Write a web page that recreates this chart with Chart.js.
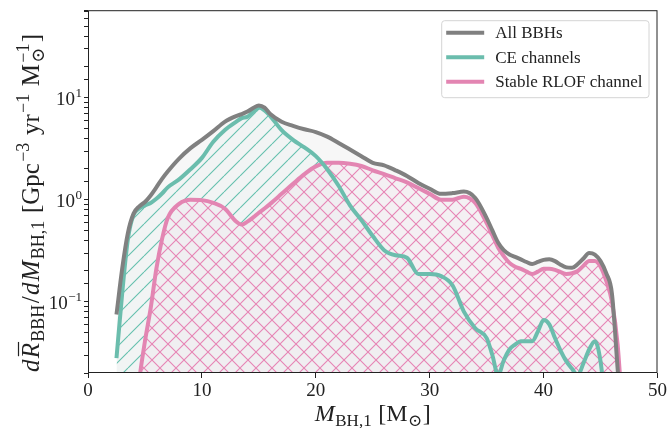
<!DOCTYPE html>
<html>
<head>
<meta charset="utf-8">
<script src="https://cdn.jsdelivr.net/npm/chart.js@4.4.1/dist/chart.umd.min.js"></script>
<style>
  html, body { margin: 0; padding: 0; background: #fff; }
  #wrap { width: 669px; height: 428px; }
</style>
</head>
<body>
<div id="wrap"><canvas id="massChart" width="669" height="428"></canvas></div>
<script>
// primary BH mass grid (Msun) and rate densities
const masses = [2.5, 3, 3.5, 4, 4.5, 5, 5.5, 6, 6.5, 7, 8, 9, 10, 11, 12, 13, 13.5, 14, 14.5, 15, 15.5, 16,
  17, 18, 19, 20, 21, 22, 23, 24, 25, 26, 27, 28, 29, 30, 31, 32, 33, 34, 35, 35.5, 36, 36.5, 37, 37.5,
  38, 38.5, 39, 39.5, 40, 40.5, 41, 41.5, 42, 42.5, 43, 43.5, 44, 44.5, 45, 45.5, 46, 46.5, 47];

const allBBH = [0.075, 0.21, 0.47, 0.73, 0.86, 0.95, 1.1, 1.32, 1.6, 1.89, 2.53, 3.2, 3.86, 4.7, 5.8, 6.6, 6.9, 7.3, 7.9, 8.4, 8.0, 6.9,
  5.8, 5.3, 4.9, 4.6, 4.15, 3.6, 3.1, 2.67, 2.3, 2.17, 1.94, 1.71, 1.46, 1.28, 1.14, 1.16, 1.2, 1.04, 0.66, 0.5, 0.38, 0.32, 0.29, 0.275,
  0.26, 0.245, 0.234, 0.245, 0.257, 0.26, 0.25, 0.23, 0.217, 0.215, 0.234, 0.265, 0.30, 0.29, 0.25, 0.19, 0.12, 0.022, 0.004];

const ceChannels = [0.028, 0.12, 0.41, 0.71, 0.82, 0.88, 0.93, 1.02, 1.15, 1.32, 1.58, 1.99, 2.57, 3.7, 4.8, 5.8, 6.3, 6.5, 7.3, 8.0, 7.5, 6.6,
  4.8, 3.86, 3.25, 2.67, 1.99, 1.37, 0.88, 0.63, 0.44, 0.32, 0.285, 0.27, 0.187, 0.187, 0.178, 0.145, 0.080, 0.055, 0.044, 0.030, 0.019, 0.0265, 0.034, 0.038,
  0.041, 0.041, 0.041, 0.051, 0.066, 0.060, 0.044, 0.033, 0.026, 0.022, 0.019, 0.025, 0.034, 0.041, 0.026, 0.008, 0.003, 0.002, 0.001];

const rlofChannel = [0.001, 0.001, 0.002, 0.005, 0.017, 0.041, 0.086, 0.21, 0.41, 0.66, 0.91, 1.0, 0.99, 0.93, 0.82, 0.61, 0.57, 0.61, 0.67, 0.745, 0.82, 0.91,
  1.14, 1.43, 1.78, 2.12, 2.3, 2.3, 2.25, 2.14, 1.94, 1.78, 1.62, 1.48, 1.30, 1.14, 1.0, 1.0, 1.07, 0.93, 0.59, 0.45, 0.34, 0.28, 0.24, 0.22,
  0.21, 0.197, 0.187, 0.197, 0.21, 0.21, 0.205, 0.195, 0.187, 0.19, 0.2, 0.225, 0.25, 0.25, 0.22, 0.16, 0.10, 0.038, 0.006];

const seriesLabels = ['All BBHs', 'CE channels', 'Stable RLOF channel'];
const xTicks = [0, 10, 20, 30, 40, 50];
const yTickPowers = [-1, 0, 1];

const grey = '#808080';
const teal = '#6bbdad';
const pink = '#e385b2';
const ink = '#222222';
const serif = "'Liberation Serif', 'DejaVu Serif', serif";

const canvas = document.getElementById('massChart');
const ctx0 = canvas.getContext('2d');

function toPoints(vals) {
  return masses.map((m, i) => ({ x: m, y: vals[i] }));
}

// hatch pattern tile, like matplotlib '/' and 'x'
function hatch(bg, color, dirs) {
  const s = 16;
  const c = document.createElement('canvas');
  c.width = s; c.height = s;
  const g = c.getContext('2d');
  g.fillStyle = bg;
  g.fillRect(0, 0, s, s);
  g.strokeStyle = color;
  g.lineWidth = 1.1;
  g.beginPath();
  for (const o of [-s, 0, s]) {
    if (dirs.includes('/')) { g.moveTo(o, s); g.lineTo(o + s, 0); }
    if (dirs.includes('\\')) { g.moveTo(o, 0); g.lineTo(o + s, s); }
  }
  g.stroke();
  return ctx0.createPattern(c, 'repeat');
}

const pinkHatch = hatch('rgba(240,224,234,0.3)', 'rgb(230,132,180)', ['/', '\\']);
const tealHatch = hatch('rgba(0,0,0,0)', 'rgb(100,192,174)', ['/']);

// draw text with sub/superscripts, centred on (x, y) baseline
function richText(ctx, parts, x, y, angle, size, gap) {
  const small = Math.round(size * 0.7);
  const fontOf = p => (p.it ? 'italic ' : '') + ((p.sub || p.sup) ? small : size) + 'px ' + serif;
  let total = 0;
  parts.forEach(p => {
    ctx.font = fontOf(p);
    p.w = ctx.measureText(p.t).width;
    if (!p.stack) total += p.w + gap;
  });
  total -= gap;
  ctx.save();
  ctx.translate(x, y);
  ctx.rotate(angle);
  ctx.fillStyle = ink;
  ctx.textAlign = 'left';
  ctx.textBaseline = 'alphabetic';
  let cx = -total / 2;
  parts.forEach(p => {
    ctx.font = fontOf(p);
    const dy = p.sub ? size * 0.2 : (p.sup ? -size * 0.42 : 0);
    ctx.fillText(p.t, cx, dy);
    if (p.bar) {
      ctx.strokeStyle = ink;
      ctx.lineWidth = 1.2;
      ctx.beginPath();
      ctx.moveTo(cx + 2, -size * 0.82);
      ctx.lineTo(cx + p.w + 1, -size * 0.82);
      ctx.stroke();
    }
    if (!p.stack) cx += p.w + gap;
  });
  ctx.restore();
}

const xTitle = [
  { t: 'M', it: true }, { t: 'BH,1', sub: true }, { t: ' [M' }, { t: '\u2299', sub: true }, { t: ']' }
];
const yTitle = [
  { t: 'd', it: true }, { t: 'R', it: true, bar: true }, { t: 'BBH', sub: true }, { t: '/' },
  { t: 'd', it: true }, { t: 'M', it: true }, { t: 'BH,1', sub: true },
  { t: ' [Gpc' }, { t: '\u22123', sup: true }, { t: ' yr' }, { t: '\u22121', sup: true },
  { t: ' M' }, { t: '\u2299', sub: true, stack: true }, { t: '\u22121', sup: true }, { t: ']' }
];

const decorations = {
  id: 'decorations',
  afterDraw(chart) {
    const { ctx, chartArea: a, scales } = chart;
    ctx.save();

    // axes frame
    ctx.strokeStyle = ink;
    ctx.lineWidth = 1;
    ctx.strokeRect(a.left + 0.5, a.top + 0.5, a.right - a.left - 1, a.bottom - a.top - 1);

    // y tick labels as powers of ten
    ctx.fillStyle = ink;
    ctx.textBaseline = 'alphabetic';
    yTickPowers.forEach(p => {
      const y = scales.y.getPixelForValue(Math.pow(10, p));
      const exp = p < 0 ? '\u2212' + (-p) : String(p);
      ctx.font = '13px ' + serif;
      const ew = ctx.measureText(exp).width;
      const right = a.left - 6;
      ctx.textAlign = 'left';
      ctx.fillText(exp, right - ew, y - 1);
      ctx.font = '19px ' + serif;
      ctx.textAlign = 'right';
      ctx.fillText('10', right - ew - 0.5, y + 7);
    });

    // axis titles
    richText(ctx, xTitle, (a.left + a.right) / 2, 421, 0, 24, 0.5);
    richText(ctx, yTitle, 39, 203, -Math.PI / 2, 25, 1.3);

    // legend box, top right inside the axes
    ctx.font = '17px ' + serif;
    const textW = Math.max(...seriesLabels.map(s => ctx.measureText(s).width));
    const boxW = 54 + textW + 6;
    const boxH = 77;
    const bx = a.right - 9 - boxW;
    const by = a.top + 10;
    ctx.beginPath();
    ctx.roundRect(bx + 0.5, by + 0.5, boxW, boxH, 3);
    ctx.fillStyle = 'rgba(255,255,255,0.8)';
    ctx.fill();
    ctx.strokeStyle = '#d4d4d4';
    ctx.lineWidth = 1;
    ctx.stroke();
    chart.data.datasets.slice(0, 3).forEach((ds, i) => {
      const ly = by + 12.5 + i * 24.5;
      ctx.strokeStyle = ds.borderColor;
      ctx.lineWidth = 4;
      ctx.beginPath();
      ctx.moveTo(bx + 5, ly);
      ctx.lineTo(bx + 43, ly);
      ctx.stroke();
      ctx.fillStyle = ink;
      ctx.textAlign = 'left';
      ctx.textBaseline = 'middle';
      ctx.fillText(ds.label, bx + 54, ly + 1);
    });
    ctx.restore();
  }
};

const lineBase = {
  pointRadius: 0,
  pointHoverRadius: 0,
  cubicInterpolationMode: 'monotone',
  clip: 0
};

new Chart(canvas, {
  type: 'line',
  data: {
    datasets: [
      { ...lineBase, label: seriesLabels[0], data: toPoints(allBBH), borderColor: grey, borderWidth: 4, fill: false },
      { ...lineBase, label: seriesLabels[1], data: toPoints(ceChannels), borderColor: teal, borderWidth: 4, fill: false },
      { ...lineBase, label: seriesLabels[2], data: toPoints(rlofChannel), borderColor: pink, borderWidth: 4, fill: false },
      // fills, drawn underneath the lines
      { ...lineBase, label: 'rlof area', data: toPoints(rlofChannel), borderWidth: 0, borderColor: 'transparent',
        fill: 'start', backgroundColor: pinkHatch },
      { ...lineBase, label: 'ce hatch', data: toPoints(ceChannels), borderWidth: 0, borderColor: 'transparent',
        fill: { target: 2, above: tealHatch, below: 'rgba(0,0,0,0)' } },
      { ...lineBase, label: 'ce area', data: toPoints(ceChannels), borderWidth: 0, borderColor: 'transparent',
        fill: 'start', backgroundColor: 'rgba(108,190,175,0.045)' },
      { ...lineBase, label: 'all area', data: toPoints(allBBH), borderWidth: 0, borderColor: 'transparent',
        fill: 'start', backgroundColor: '#f7f7f7' }
    ]
  },
  options: {
    responsive: false,
    animation: false,
    devicePixelRatio: 1,
    layout: { padding: { left: 0, right: 11, top: 3, bottom: 0 } },
    plugins: {
      legend: { display: false },
      tooltip: { enabled: false }
    },
    scales: {
      x: {
        type: 'linear',
        min: 0,
        max: 50,
        afterFit: s => { s.height = 55; },
        afterBuildTicks: s => { s.ticks = xTicks.map(v => ({ value: v })); },
        border: { display: false },
        grid: { drawOnChartArea: false, drawTicks: true, tickLength: 5, tickColor: ink },
        ticks: { font: { family: serif, size: 19 }, color: ink, padding: 2, maxRotation: 0 }
      },
      y: {
        type: 'logarithmic',
        min: 0.02,
        max: 72,
        afterFit: s => { s.width = 88; },
        border: { display: false },
        grid: { drawOnChartArea: false, drawTicks: true, tickLength: 4, tickColor: ink },
        ticks: { autoSkip: false, callback: () => '' }
      }
    }
  },
  plugins: [decorations]
});
</script>
</body>
</html>
